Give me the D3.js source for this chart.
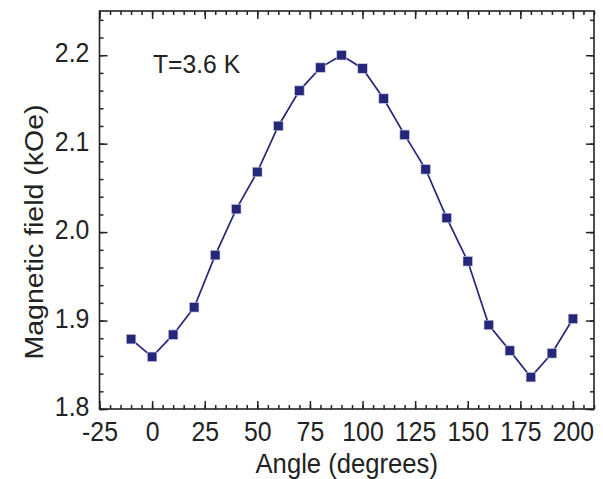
<!DOCTYPE html>
<html>
<head>
<meta charset="utf-8">
<script src="https://cdn.jsdelivr.net/npm/d3@7"></script>
<style>
  body { margin: 0; background: #fff; }
  svg { display: block; }
  text { font-family: "Liberation Sans", Arial, Helvetica, sans-serif; fill: #222; }
</style>
</head>
<body>
<svg id="chart" width="603" height="479"></svg>
<script>
// Data
const angles = [-10, 0, 10, 20, 30, 40, 50, 60, 70, 80, 90, 100, 110, 120, 130, 140, 150, 160, 170, 180, 190, 200];
const field = [1.879, 1.859, 1.884, 1.915, 1.974, 2.026, 2.068, 2.120, 2.160, 2.186, 2.200, 2.185, 2.151, 2.110, 2.071, 2.016, 1.967, 1.895, 1.866, 1.836, 1.863, 1.902];
const xTicks = [-25, 0, 25, 50, 75, 100, 125, 150, 175, 200];
const yTicks = [1.8, 1.9, 2.0, 2.1, 2.2];
const xLabel = "Angle (degrees)";
const yLabel = "Magnetic field (kOe)";
const annotation = "T=3.6 K";

const svg = d3.select("#chart");
const L = 99.5, R = 594, T = 11, B = 409;
const x = d3.scaleLinear().domain([-25, 210]).range([L, R]);
const y = d3.scaleLinear().domain([1.8, 2.25]).range([B, T]);
const ink = "#222";
const color = "#25287a";
const fs = 27, sx = 0.92;

const xMinor = d3.range(-25, 211, 5);
const yMinor = d3.range(0, 23).map(i => +(1.8 + i * 0.02).toFixed(2));

function styleAxis(g) {
  g.selectAll("path.domain").remove();
  g.selectAll("line").attr("stroke", ink).attr("stroke-width", 1.5);
}

// minor ticks
svg.append("g").attr("transform", `translate(0,${B})`)
  .call(d3.axisBottom(x).tickValues(xMinor).tickSize(-4).tickFormat("")).call(styleAxis);
svg.append("g").attr("transform", `translate(0,${T})`)
  .call(d3.axisTop(x).tickValues(xMinor).tickSize(-4).tickFormat("")).call(styleAxis);
svg.append("g").attr("transform", `translate(${L},0)`)
  .call(d3.axisLeft(y).tickValues(yMinor).tickSize(-4).tickFormat("")).call(styleAxis);
svg.append("g").attr("transform", `translate(${R},0)`)
  .call(d3.axisRight(y).tickValues(yMinor).tickSize(-4).tickFormat("")).call(styleAxis);

// major ticks
const gx = svg.append("g").attr("transform", `translate(0,${B})`)
  .call(d3.axisBottom(x).tickValues(xTicks).tickSize(-8).tickPadding(13).tickFormat(d => String(d))).call(styleAxis);
gx.selectAll("text").attr("font-size", fs).attr("fill", ink)
  .attr("transform", `scale(${sx},1)`);
svg.append("g").attr("transform", `translate(0,${T})`)
  .call(d3.axisTop(x).tickValues(xTicks).tickSize(-8).tickFormat("")).call(styleAxis);
const gy = svg.append("g").attr("transform", `translate(${L},0)`)
  .call(d3.axisLeft(y).tickValues(yTicks).tickSize(-8).tickPadding(11).tickFormat(d3.format(".1f"))).call(styleAxis);
gy.selectAll("text").attr("font-size", fs).attr("fill", ink).attr("dy", "0.25em")
  .attr("transform", `scale(${sx},1)`);
svg.append("g").attr("transform", `translate(${R},0)`)
  .call(d3.axisRight(y).tickValues(yTicks).tickSize(-8).tickFormat("")).call(styleAxis);

// frame
svg.append("rect").attr("x", L).attr("y", T).attr("width", R - L).attr("height", B - T)
  .attr("fill", "none").attr("stroke", ink).attr("stroke-width", 1.6);

// line
const pts = angles.map((a, i) => [a, field[i]]);
svg.append("path").datum(pts)
  .attr("fill", "none").attr("stroke", color).attr("stroke-width", 1.7)
  .attr("d", d3.line().x(d => x(d[0])).y(d => y(d[1])));

// markers
const ms = 9.5;
svg.append("g").selectAll("rect").data(pts).join("rect")
  .attr("x", d => x(d[0]) - ms / 2).attr("y", d => y(d[1]) - ms / 2)
  .attr("width", ms).attr("height", ms)
  .attr("fill", color).attr("stroke", "#c9cadf").attr("stroke-width", 0.6);

// annotation
svg.append("text").attr("transform", `translate(153,73) scale(0.95,1)`)
  .attr("font-size", 26).text(annotation);

// axis titles
svg.append("text").attr("transform", `translate(${(L + R) / 2},473) scale(0.95,1)`)
  .attr("text-anchor", "middle").attr("font-size", fs).text(xLabel);
svg.append("text").attr("transform", `translate(43,232) scale(${sx},1) rotate(-90)`)
  .attr("text-anchor", "middle").attr("font-size", 28.5).text(yLabel);
</script>
</body>
</html>
